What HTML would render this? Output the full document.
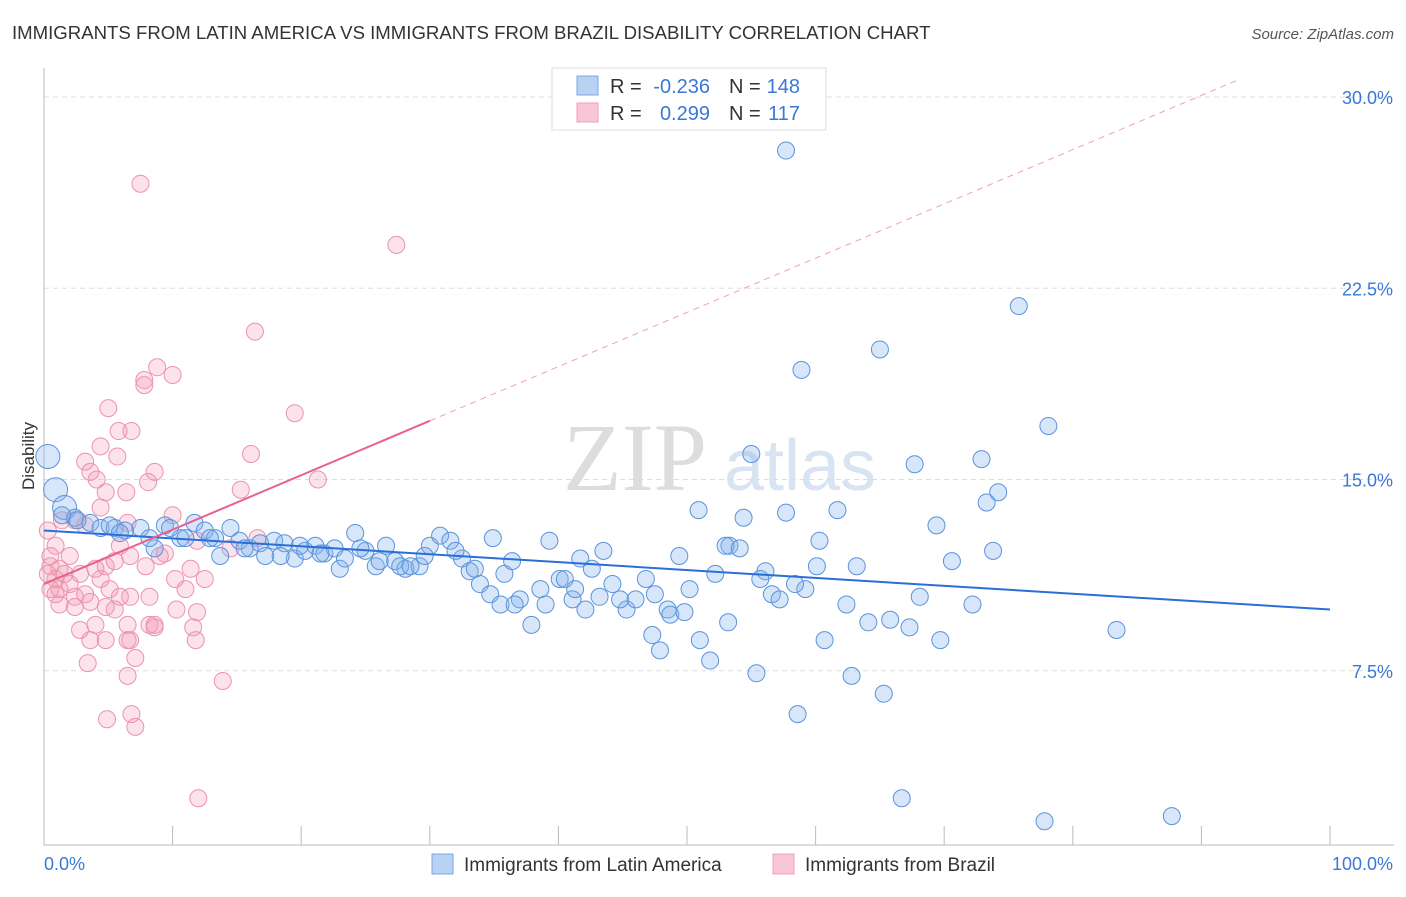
<!DOCTYPE html>
<html><head><meta charset="utf-8"><style>
body{margin:0;background:#fff;font-family:"Liberation Sans",sans-serif}
</style></head><body>
<svg id="c" width="1406" height="892" xmlns="http://www.w3.org/2000/svg">
<text x="12" y="39" font-size="18.6" fill="#333">IMMIGRANTS FROM LATIN AMERICA VS IMMIGRANTS FROM BRAZIL DISABILITY CORRELATION CHART</text>
<text x="1394" y="39" font-size="15" fill="#555" font-style="italic" text-anchor="end">Source: ZipAtlas.com</text>
<text x="0" y="0" transform="translate(34,456) rotate(-90)" font-size="17" fill="#333" text-anchor="middle">Disability</text>
<g><text x="635" y="490" font-size="96" fill="#ddd" font-family="Liberation Serif,serif" text-anchor="middle">ZIP</text><text x="800" y="490" font-size="72" fill="#d8e4f2" text-anchor="middle">atlas</text></g>
<g id="grid"></g><g id="axes"></g><g id="pts"></g><g id="trend"></g>
<g>
<rect x="552" y="68" width="274" height="62" fill="#fff" stroke="#ddd"/>
<rect x="577" y="76" width="21" height="19" fill="#b8d2f3" stroke="#7aa7e6"/>
<rect x="577" y="103" width="21" height="19" fill="#f9c6d5" stroke="#f0a0b8"/>
<text x="610" y="93" font-size="20" fill="#333">R =</text>
<text x="710" y="93" font-size="20" fill="#3a78d6" text-anchor="end">-0.236</text>
<text x="729" y="93" font-size="20" fill="#333">N =</text>
<text x="800" y="93" font-size="20" fill="#3a78d6" text-anchor="end">148</text>
<text x="610" y="120" font-size="20" fill="#333">R =</text>
<text x="710" y="120" font-size="20" fill="#3a78d6" text-anchor="end">0.299</text>
<text x="729" y="120" font-size="20" fill="#333">N =</text>
<text x="800" y="120" font-size="20" fill="#3a78d6" text-anchor="end">117</text>
</g>
<g>
<rect x="432" y="854" width="21" height="20" fill="#b8d2f3" stroke="#7aa7e6"/>
<text x="464" y="871" font-size="19" fill="#333">Immigrants from Latin America</text>
<rect x="773" y="854" width="21" height="20" fill="#f9c6d5" stroke="#f0a0b8"/>
<text x="805" y="871" font-size="19" fill="#333">Immigrants from Brazil</text>
</g>
</svg>
<script>
const yTicks=[7.5,15,22.5,30];
const yTickLabels=["7.5%","15.0%","22.5%","30.0%"];
const xTicks=[0,10,20,30,40,50,60,70,80,90,100];
const blueX=[0.3,0.9,1.6,2.4,3.6,4.4,5.5,6.3,7.5,8.6,9.4,10.6,11.7,12.5,13.3,14.5,15.2,16.0,16.8,17.9,18.7,19.5,20.3,21.1,21.8,22.6,23.0,24.2,25.0,25.8,26.6,27.3,28.1,29.2,30.0,30.8,31.6,32.5,33.1,33.9,34.9,35.8,36.4,37.0,37.9,38.6,39.3,40.1,41.1,41.7,42.6,43.5,44.2,45.3,46.8,47.3,47.9,48.5,49.4,50.2,50.9,52.2,53.2,53.3,54.4,55.0,55.4,56.1,56.6,57.7,57.7,58.6,58.9,59.2,60.1,60.7,61.7,62.4,62.8,63.2,64.1,65.0,65.3,65.8,66.7,67.3,67.7,68.1,69.4,69.7,70.6,72.2,72.9,73.3,73.8,74.2,75.8,77.8,78.1,83.4,87.7,1.4,2.6,5.1,5.9,8.2,9.8,11.0,12.9,13.7,15.6,17.2,18.4,19.9,21.5,23.4,24.6,26.1,27.7,28.5,29.6,32.0,33.5,34.7,35.5,36.6,39.0,40.5,41.3,42.1,43.2,44.8,46.0,47.5,48.7,49.8,51.0,51.8,53.0,54.1,55.7,57.2,58.4,60.3];
const blueY=[15.9,14.6,13.9,13.5,13.3,13.1,13.1,13.0,13.1,12.3,13.2,12.7,13.3,13.0,12.7,13.1,12.6,12.3,12.5,12.6,12.5,11.9,12.2,12.4,12.1,12.3,11.5,12.9,12.2,11.6,12.4,11.8,11.5,11.6,12.4,12.8,12.6,11.9,11.4,10.9,12.7,11.3,11.8,10.3,9.3,10.7,12.6,11.1,10.3,11.9,11.5,12.2,10.9,9.9,11.1,8.9,8.3,9.9,12.0,10.7,13.8,11.3,9.4,12.4,13.5,16.0,7.4,11.4,10.5,27.9,13.7,5.8,19.3,10.7,11.6,8.7,13.8,10.1,7.3,11.6,9.4,20.1,6.6,9.5,2.5,9.2,15.6,10.4,13.2,8.7,11.8,10.1,15.8,14.1,12.2,14.5,21.8,1.6,17.1,9.1,1.8,13.6,13.4,13.2,12.9,12.7,13.1,12.7,12.7,12.0,12.3,12.0,12.0,12.4,12.1,11.9,12.3,11.8,11.6,11.6,12.0,12.2,11.5,10.5,10.1,10.1,10.1,11.1,10.7,9.9,10.4,10.3,10.3,10.5,9.7,9.8,8.7,7.9,12.4,12.3,11.1,10.3,10.9,12.6];
const pinkX=[7.5,27.4,16.4,8.8,10.0,7.8,7.8,5.0,19.5,5.8,6.8,4.4,16.1,5.7,3.2,8.6,3.6,4.1,8.1,21.3,15.3,6.4,4.8,4.4,10.0,2.4,6.5,3.2,16.6,9.4,11.9,14.5,0.9,2.0,5.9,0.5,0.5,1.2,0.3,0.9,1.6,2.8,4.0,4.8,5.5,6.7,7.9,9.0,0.5,1.2,2.4,3.2,4.4,5.1,5.9,1.2,2.4,3.6,4.8,5.5,2.8,4.0,6.7,8.2,10.2,11.4,11.0,12.5,10.3,11.9,6.5,8.2,8.6,3.6,4.8,6.7,8.6,11.6,11.8,6.5,7.1,3.4,6.5,13.9,4.9,6.8,7.1,12.0,0.3,1.4,2.0,0.9];
const pinkY=[26.6,24.2,20.8,19.4,19.1,18.9,18.7,17.8,17.6,16.9,16.9,16.3,16.0,15.9,15.7,15.3,15.3,15.0,14.9,15.0,14.6,14.5,14.5,13.9,13.6,13.4,13.3,13.2,12.7,12.1,12.6,12.3,12.4,12.0,12.4,12.0,11.6,11.5,11.3,11.1,11.3,11.3,11.5,11.6,11.8,12.0,11.6,12.0,10.7,10.7,10.4,10.5,11.1,10.7,10.4,10.1,10.0,10.2,10.0,9.9,9.1,9.3,10.4,10.4,11.1,11.5,10.7,11.1,9.9,9.8,9.3,9.3,9.3,8.7,8.7,8.7,9.2,9.2,8.7,8.7,8.0,7.8,7.3,7.1,5.6,5.8,5.3,2.5,13.0,13.4,10.9,10.5];
const blueTrendX=[0,100];
const blueTrendY=[13.0,9.9];
const pinkTrendX=[0,30,93];
const pinkTrendY=[10.9,17.3,30.7];
const X=v=>44+v*12.86, Y=v=>862-v*25.5;
const NS="http://www.w3.org/2000/svg";
function mk(p,t,a){const e=document.createElementNS(NS,t);for(const k in a)e.setAttribute(k,a[k]);document.getElementById(p).appendChild(e);return e;}
yTicks.forEach((t,i)=>{
 const l=mk('grid','line',{x1:44,x2:1394,y1:Y(t),y2:Y(t),stroke:'#ddd','stroke-dasharray':'5,4'});
 
 
 const tx=mk('grid','text',{x:1393,y:Y(t)+7,'font-size':18,fill:'#3a78d6','text-anchor':'end'});
 tx.textContent=yTickLabels[i];
 
 
});
const ax=mk('axes','line',{x1:44,x2:44,y1:68,y2:845,stroke:'#bbb'});


const bx=mk('axes','line',{x1:44,x2:1394,y1:845,y2:845,stroke:'#bbb'});


xTicks.forEach(t=>{const l=mk('axes','line',{x1:X(t),x2:X(t),y1:826,y2:845,stroke:'#bbb'});
 
 });
const x0=mk('axes','text',{x:44,y:870,'font-size':18,fill:'#3a78d6'});x0.textContent='0.0%';


const x1=mk('axes','text',{x:1393,y:870,'font-size':18,fill:'#3a78d6','text-anchor':'end'});x1.textContent='100.0%';


pinkX.forEach((v,i)=>{const c=mk('pts','circle',{cx:X(v),cy:Y(pinkY[i]),r:8.5,fill:'rgba(244,150,178,0.28)',stroke:'#ec93ae','stroke-width':1});
 
 });
blueX.forEach((v,i)=>{const c=mk('pts','circle',{cx:X(v),cy:Y(blueY[i]),r:(v<2&&blueY[i]>13.8)?12:8.5,fill:'rgba(130,178,235,0.32)',stroke:'#5b93dc','stroke-width':1});
 
 });
const bt=mk('trend','line',{x1:X(blueTrendX[0]),y1:Y(blueTrendY[0]),x2:X(blueTrendX[1]),y2:Y(blueTrendY[1]),stroke:'#2a6fd8','stroke-width':2});


const pt=mk('trend','line',{x1:X(pinkTrendX[0]),y1:Y(pinkTrendY[0]),x2:X(pinkTrendX[1]),y2:Y(pinkTrendY[1]),stroke:'#ea5f8c','stroke-width':2});


const pd=mk('trend','line',{x1:X(pinkTrendX[1]),y1:Y(pinkTrendY[1]),x2:X(pinkTrendX[2]),y2:Y(pinkTrendY[2]),stroke:'#eea0b8','stroke-width':1,'stroke-dasharray':'6,5'});


</script>
</body></html>
